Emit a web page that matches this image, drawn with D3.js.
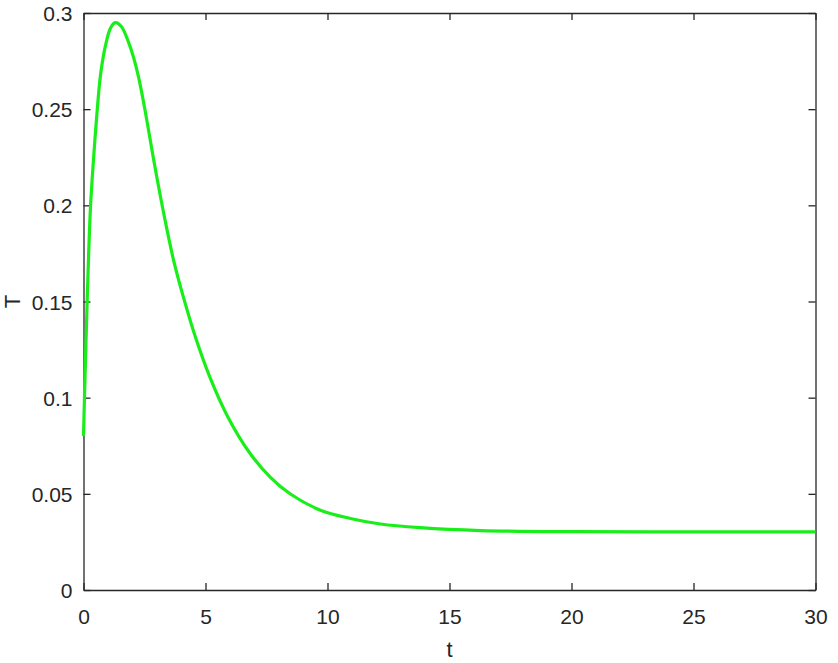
<!DOCTYPE html>
<html>
<head>
<meta charset="utf-8">
<script src="https://cdn.jsdelivr.net/npm/d3@7"></script>
<style>
  html, body { margin: 0; padding: 0; background: #fff; }
  svg { display: block; }
  text { font-family: "Liberation Sans", Arial, sans-serif; fill: #262626; }
</style>
</head>
<body>
<svg id="chart" width="838" height="663"></svg>
<script>
// Data
const tValues = [0, 0.04, 0.15, 0.22, 0.29, 0.4, 0.54, 0.7, 0.9, 1.1, 1.3, 1.55, 1.84, 2.05, 2.25, 2.5, 2.9, 3.3, 3.7, 4.1, 4.6, 5.2, 5.9, 6.8, 7.66, 8.48, 9.71, 10.94, 12.17, 13.8, 16.27, 20, 25, 30];
const TValues = [0.08, 0.10, 0.15, 0.178, 0.20, 0.222, 0.246, 0.268, 0.283, 0.292, 0.295, 0.293, 0.285, 0.277, 0.267, 0.251, 0.222, 0.195, 0.171, 0.152, 0.131, 0.110, 0.0904, 0.0715, 0.0586, 0.0499, 0.0415, 0.0372, 0.0343, 0.0324, 0.0309, 0.0303, 0.0302, 0.0302];
const xTicks = [0, 5, 10, 15, 20, 25, 30];
const yTicks = [0, 0.05, 0.1, 0.15, 0.2, 0.25, 0.3];
const xLabel = "t";
const yLabel = "T";

const svg = d3.select("#chart");
const L = 83.5, R = 815.5, Tp = 13, B = 590;

const x = d3.scaleLinear().domain([0, 30]).range([L, R]);
const y = d3.scaleLinear().domain([0, 0.3]).range([B, Tp]);

const axisColor = "#262626";
const tickLen = 7;
const fmtY = d => (d === 0 ? "0" : String(+d.toFixed(2)));

const gx = svg.append("g").attr("transform", `translate(0,${B})`)
  .call(d3.axisBottom(x).tickValues(xTicks).tickSizeInner(-tickLen).tickSizeOuter(0).tickPadding(19).tickFormat(d3.format("d")));
const gxt = svg.append("g").attr("transform", `translate(0,${Tp})`)
  .call(d3.axisTop(x).tickValues(xTicks).tickSizeInner(-tickLen).tickSizeOuter(0).tickFormat(""));
const gy = svg.append("g").attr("transform", `translate(${L},0)`)
  .call(d3.axisLeft(y).tickValues(yTicks).tickSizeInner(-tickLen).tickSizeOuter(0).tickPadding(11).tickFormat(fmtY));
const gyr = svg.append("g").attr("transform", `translate(${R},0)`)
  .call(d3.axisRight(y).tickValues(yTicks).tickSizeInner(-tickLen).tickSizeOuter(0).tickFormat(""));

[gx, gxt, gy, gyr].forEach(g => {
  g.select(".domain").attr("stroke", axisColor).attr("stroke-width", 1.3);
  g.selectAll(".tick line").attr("stroke", axisColor).attr("stroke-width", 1.3);
  g.selectAll(".tick text").attr("fill", axisColor)
    .style("font-family", '"Liberation Sans", Arial, sans-serif')
    .style("font-size", "21px");
});
gy.selectAll(".tick text").attr("dy", "0.36em");

const line = d3.line().x((d, i) => x(tValues[i])).y(d => y(d)).curve(d3.curveCatmullRom.alpha(0.5));
svg.append("path")
  .datum(TValues)
  .attr("fill", "none")
  .attr("stroke", "#1aee1a")
  .attr("stroke-width", 3.2)
  .attr("stroke-linejoin", "round")
  .attr("d", line);

svg.append("text")
  .attr("x", (L + R) / 2).attr("y", 657)
  .attr("text-anchor", "middle")
  .style("font-size", "22px")
  .text(xLabel);
svg.append("text")
  .attr("transform", `translate(20,${(Tp + B) / 2}) rotate(-90)`)
  .attr("text-anchor", "middle")
  .style("font-size", "22px")
  .text(yLabel);
</script>
</body>
</html>
